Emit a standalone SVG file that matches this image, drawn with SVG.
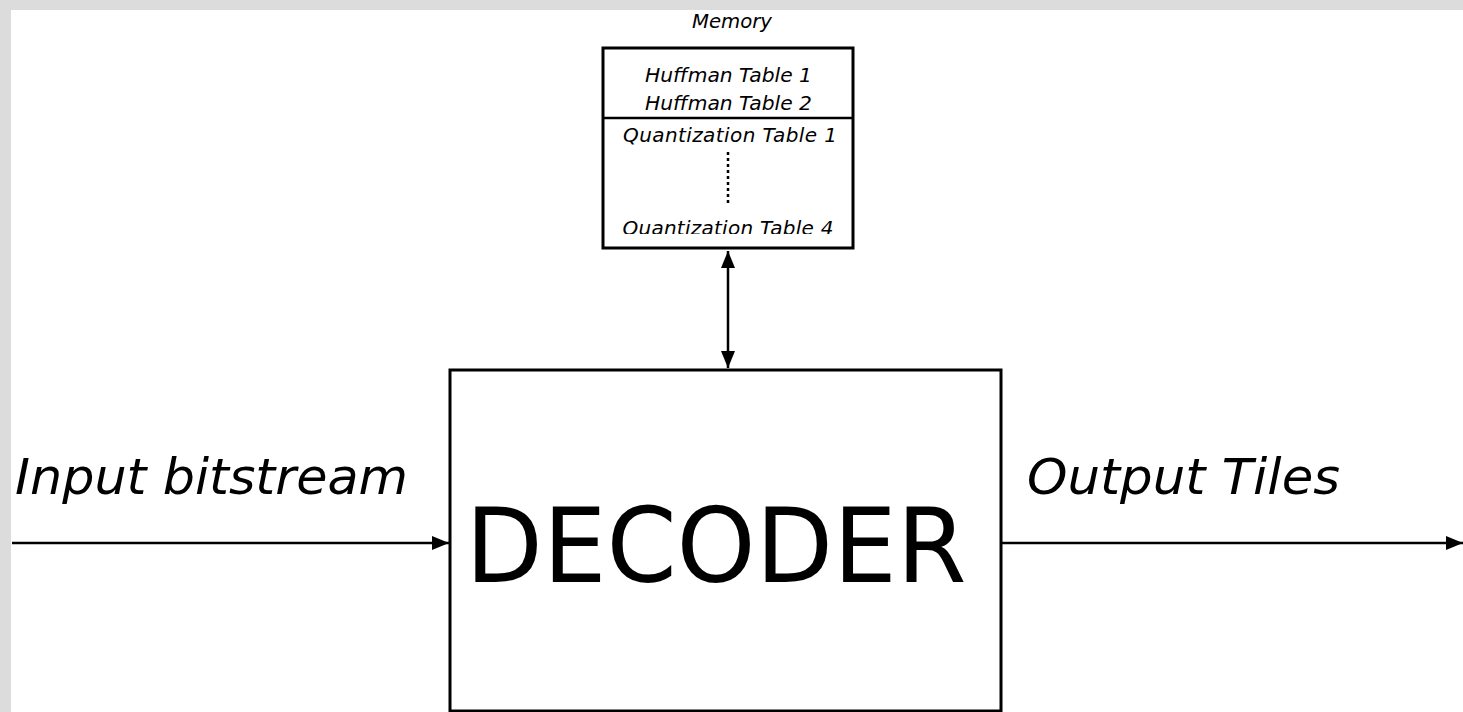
<svg xmlns="http://www.w3.org/2000/svg" width="1463" height="712" viewBox="0 0 1463 712">
<defs>
<style>
.box{fill:#fff;stroke:#000;stroke-width:3}
.t{font-family:"DejaVu Sans",sans-serif;fill:#000}
.i{font-style:italic}
.ln{stroke:#000;stroke-width:2.5;fill:none}
</style>
<marker id="ah" markerWidth="17" markerHeight="14" refX="17" refY="7" orient="auto" markerUnits="userSpaceOnUse">
<path d="M0,0 L17,7 L0,14 Z" fill="#000"/>
</marker>
<marker id="as" markerWidth="17" markerHeight="14" refX="0" refY="7" orient="auto" markerUnits="userSpaceOnUse">
<path d="M17,0 L0,7 L17,14 Z" fill="#000"/>
</marker>
<clipPath id="qclip"><rect x="604" y="120" width="248" height="114"/></clipPath>
</defs>
<rect x="0" y="0" width="1463" height="712" fill="#dcdcdc"/>
<rect x="11" y="10" width="1452" height="702" fill="#fff"/>

<g id="memory">
<text class="t i" x="732" y="28" font-size="19" text-anchor="middle" textLength="80" lengthAdjust="spacingAndGlyphs">Memory</text>
<rect class="box" x="603" y="48" width="250" height="200"/>
<line class="ln" x1="603" y1="118" x2="853" y2="118" stroke-width="3"/>
<text class="t i" x="728.5" y="82" font-size="20" text-anchor="middle" textLength="167" lengthAdjust="spacingAndGlyphs">Huffman Table 1</text>
<text class="t i" x="728.5" y="110" font-size="20" text-anchor="middle" textLength="167" lengthAdjust="spacingAndGlyphs">Huffman Table 2</text>
<text class="t i" x="730" y="142" font-size="20" text-anchor="middle" textLength="214" lengthAdjust="spacing">Quantization Table 1</text>
<line class="ln" x1="728" y1="152" x2="728" y2="204" stroke-width="3" stroke-dasharray="3,3"/>
<text class="t i" x="728" y="235" font-size="20" text-anchor="middle" textLength="211" lengthAdjust="spacing" clip-path="url(#qclip)">Quantization Table 4</text>
</g>

<g id="decoder">
<rect class="box" x="450" y="370" width="551" height="341"/>
<text class="t" x="716" y="582" font-size="103" text-anchor="middle" textLength="501" lengthAdjust="spacingAndGlyphs">DECODER</text>
</g>

<g id="labels">
<text class="t i" x="15" y="494" font-size="50" textLength="393" lengthAdjust="spacingAndGlyphs">Input bitstream</text>
<text class="t i" x="1027" y="494" font-size="50" textLength="313" lengthAdjust="spacingAndGlyphs">Output Tiles</text>
</g>

<g id="connectors">
<line class="ln" x1="12" y1="543" x2="449" y2="543" marker-end="url(#ah)"/>
<line class="ln" x1="1001" y1="543" x2="1463" y2="543" marker-end="url(#ah)"/>
<line class="ln" x1="728" y1="251" x2="728" y2="368" marker-start="url(#as)" marker-end="url(#ah)"/>
</g>
</svg>
